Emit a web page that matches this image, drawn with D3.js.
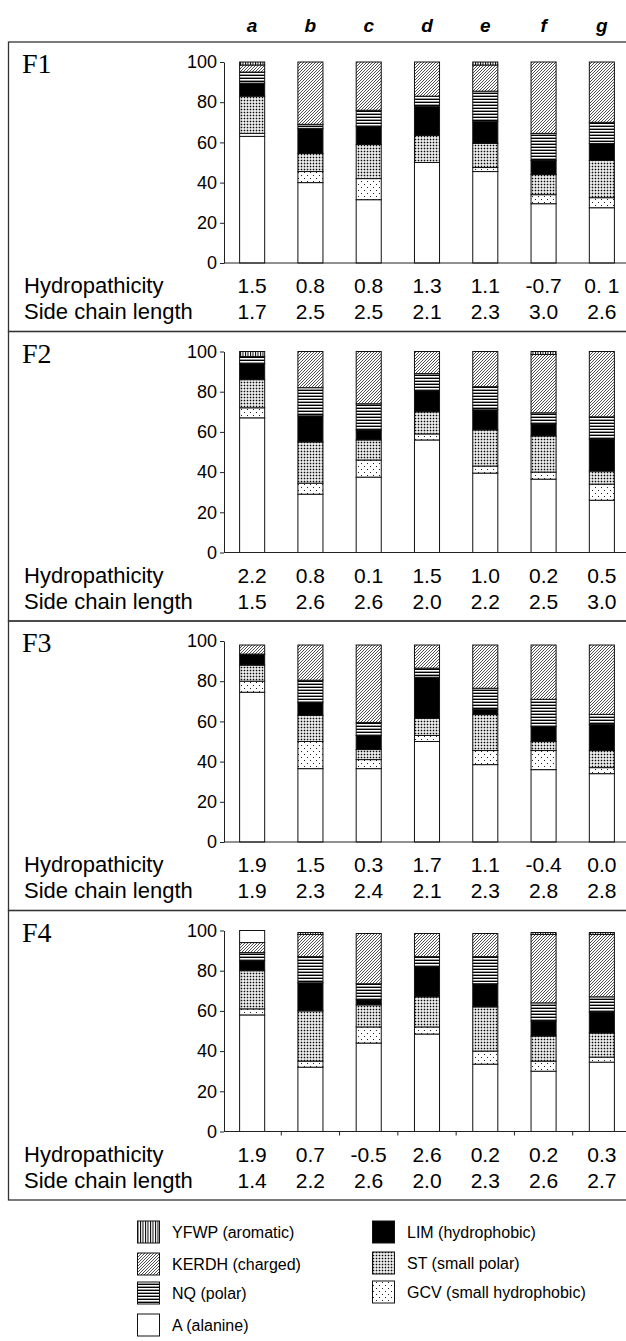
<!DOCTYPE html>
<html lang="en">
<head>
<meta charset="UTF-8">
<title>Amino acid composition F1-F4</title>
<script src="https://d3js.org/d3.v7.min.js"></script>
<style>
  body { margin: 0; background: #fff; }
  text { font-family: Arial, "Liberation Sans", sans-serif; fill: #000; }
</style>
</head>
<body>
<div id="chart"></div>

<script>
// Categories and panels
const categories = ["a", "b", "c", "d", "e", "f", "g"];
const panels = ["F1", "F2", "F3", "F4"];

// Stack order from bottom to top; "other" is the unlabelled white cap on F4 bar a
const series = ["A", "GCV", "ST", "LIM", "NQ", "KERDH", "YFWP", "other"];

// Percent composition, one row per series (same order as `series`), one column per category
const f1Values = [
  [63, 40, 31.5, 50, 45.5, 29.5, 27.5],
  [1.5, 5.5, 10.5, 0, 2, 4.5, 5],
  [18.5, 9, 17, 13.5, 12, 10, 18.5],
  [6.5, 12.5, 9, 14.5, 11, 7, 8.5],
  [5.5, 2, 8, 5, 15, 13.5, 10.5],
  [3.5, 31, 24, 17, 13, 35.5, 30],
  [1.5, 0, 0, 0, 1.5, 0, 0],
  [0, 0, 0, 0, 0, 0, 0]
];
const f2Values = [
  [67, 29, 37.5, 56, 39.5, 36.5, 26],
  [5, 5.5, 8.5, 3, 3.5, 3.5, 8],
  [14, 20.5, 10, 11, 18, 18, 6.5],
  [8, 13, 5, 10.5, 10, 6, 16],
  [3.5, 14, 13, 8.5, 11.5, 5.5, 11],
  [0, 18, 26, 11, 17.5, 29, 32.5],
  [2.5, 0, 0, 0, 0, 1.5, 0],
  [0, 0, 0, 0, 0, 0, 0]
];
const f3Values = [
  [74.5, 36.5, 36.5, 50, 38.5, 36, 34],
  [5.5, 13.5, 4.5, 3, 7, 9.5, 3],
  [8, 13, 5, 8.5, 18, 4.5, 8.5],
  [5.5, 6.5, 7, 20.5, 2.5, 7.5, 13],
  [0, 11, 6.5, 4.5, 10.5, 13.5, 5],
  [4.5, 17.5, 38.5, 11.5, 21.5, 27, 34.5],
  [0, 0, 0, 0, 0, 0, 0],
  [0, 0, 0, 0, 0, 0, 0]
];
const f4Values = [
  [58, 32, 44, 48.5, 33.5, 30, 34.5],
  [3, 3, 8, 3.5, 6.5, 5, 2.5],
  [19, 25, 11, 15, 22, 12.5, 12],
  [5, 14, 2.5, 15, 11.5, 7.5, 10.5],
  [4, 13, 8, 5, 13.5, 9, 7.5],
  [5, 11, 25, 11.5, 11.5, 34, 31],
  [0, 1, 0, 0, 0, 1, 1],
  [6, 0, 0, 0, 0, 0, 0]
];

// Row values under each panel
const hydro = [
  ["1.5", "0.8", "0.8", "1.3", "1.1", "-0.7", "0. 1"],
  ["2.2", "0.8", "0.1", "1.5", "1.0", "0.2", "0.5"],
  ["1.9", "1.5", "0.3", "1.7", "1.1", "-0.4", "0.0"],
  ["1.9", "0.7", "-0.5", "2.6", "0.2", "0.2", "0.3"]
];
const sideChain = [
  ["1.7", "2.5", "2.5", "2.1", "2.3", "3.0", "2.6"],
  ["1.5", "2.6", "2.6", "2.0", "2.2", "2.5", "3.0"],
  ["1.9", "2.3", "2.4", "2.1", "2.3", "2.8", "2.8"],
  ["1.4", "2.2", "2.6", "2.0", "2.3", "2.6", "2.7"]
];
const yTicks = [0, 20, 40, 60, 80, 100];

// Legend entries (two columns)
const legendLeft = [
  ["YFWP", "YFWP (aromatic)"],
  ["KERDH", "KERDH (charged)"],
  ["NQ", "NQ (polar)"],
  ["A", "A (alanine)"]
];
const legendRight = [
  ["LIM", "LIM (hydrophobic)"],
  ["ST", "ST (small polar)"],
  ["GCV", "GCV (small hydrophobic)"]
];

const panelValues = [f1Values, f2Values, f3Values, f4Values];

// Layout
const W = 626, H = 1341;
const panelTop = 42, panelH = 289.5, boxLeft = 8.5;
const axisX = 224;

const svg = d3.select("#chart").append("svg")
  .attr("width", W)
  .attr("height", H);

// Fill patterns
const defs = svg.append("defs");
function pattern(id, w, h) {
  const p = defs.append("pattern")
    .attr("id", id)
    .attr("patternUnits", "userSpaceOnUse")
    .attr("width", w).attr("height", h);
  p.append("rect").attr("width", w).attr("height", h).attr("fill", "#fff");
  return p;
}
// vertical lines
pattern("p-yfwp", 2.5, 4).append("rect").attr("width", 1).attr("height", 4).attr("fill", "#000");
// fine diagonal hatch
pattern("p-kerdh", 3, 3).append("path")
  .attr("d", "M0,3 L3,0 M-1,1 L1,-1 M2,4 L4,2")
  .attr("stroke", "#222").attr("stroke-width", 0.8);
// horizontal lines, alternating black and grey
const nq = pattern("p-nq", 4, 3);
nq.append("rect").attr("y", 0).attr("width", 4).attr("height", 1).attr("fill", "#000");
nq.append("rect").attr("y", 2).attr("width", 4).attr("height", 1).attr("fill", "#999");
// dense dots
pattern("p-st", 3, 3).append("rect")
  .attr("x", 0.7).attr("y", 0.7).attr("width", 1.6).attr("height", 1.6).attr("fill", "#000");
// sparse dots
const gcv = pattern("p-gcv", 6, 6);
gcv.append("rect").attr("x", 1).attr("y", 1).attr("width", 1).attr("height", 1).attr("fill", "#222");
gcv.append("rect").attr("x", 4).attr("y", 4).attr("width", 1).attr("height", 1).attr("fill", "#222");

const fills = {
  A: "#fff", GCV: "url(#p-gcv)", ST: "url(#p-st)", LIM: "#000",
  NQ: "url(#p-nq)", KERDH: "url(#p-kerdh)", YFWP: "url(#p-yfwp)", other: "#fff"
};

// x scale shared by every panel
const x = d3.scaleBand()
  .domain(categories)
  .range([223, 631])
  .paddingInner(0.57)
  .paddingOuter(0.285);

// Column letters at the top
svg.append("g").selectAll("text")
  .data(categories)
  .join("text")
  .attr("x", d => x(d) + x.bandwidth() / 2)
  .attr("y", 32)
  .attr("text-anchor", "middle")
  .style("font-size", "19px")
  .style("font-weight", "bold")
  .style("font-style", "italic")
  .text(d => d);

panels.forEach((name, i) => {
  const top = panelTop + i * panelH;
  const g = svg.append("g");

  // panel frame (right edge runs off the page)
  g.append("rect")
    .attr("x", boxLeft).attr("y", top)
    .attr("width", W + 10).attr("height", panelH)
    .attr("fill", "none").attr("stroke", "#333").attr("stroke-width", 1.3);

  g.append("text")
    .attr("x", 22).attr("y", top + 31)
    .style("font-family", "'Liberation Serif', 'Times New Roman', serif")
    .style("font-size", "28px")
    .text(name);

  const y = d3.scaleLinear().domain([0, 100]).range([top + 221, top + 20]);

  // stacked bars
  const rows = categories.map((c, j) => {
    const r = { cat: c };
    series.forEach((s, k) => { r[s] = panelValues[i][k][j]; });
    return r;
  });
  const stacked = d3.stack().keys(series)(rows);

  g.append("g").selectAll("g")
    .data(stacked)
    .join("g")
    .attr("fill", d => fills[d.key])
    .selectAll("rect")
    .data(d => d.filter(p => p[1] - p[0] > 0))
    .join("rect")
    .attr("x", d => x(d.data.cat))
    .attr("y", d => y(d[1]))
    .attr("width", x.bandwidth())
    .attr("height", d => y(d[0]) - y(d[1]))
    .attr("stroke", "#111")
    .attr("stroke-width", 1);

  // y axis
  const yAxis = g.append("g")
    .attr("transform", `translate(${axisX},0)`)
    .call(d3.axisLeft(y).tickValues(yTicks).tickSize(4).tickSizeOuter(0).tickPadding(3));
  yAxis.selectAll("text").style("font-size", "18px").style("font-family", "Arial, 'Liberation Sans', sans-serif");
  yAxis.selectAll("path, line").attr("stroke", "#222");

  // x axis line
  const xAxis = g.append("g")
    .attr("transform", `translate(0,${y(0)})`);
  xAxis.append("line")
    .attr("x1", axisX).attr("x2", W)
    .attr("stroke", "#222");
  if (i === 3) {
    xAxis.selectAll("line.tick")
      .data(categories.slice(1))
      .join("line")
      .attr("class", "tick")
      .attr("x1", d => x(d) - x.step() * x.paddingInner() / 2)
      .attr("x2", d => x(d) - x.step() * x.paddingInner() / 2)
      .attr("y1", 0).attr("y2", 4)
      .attr("stroke", "#222");
  }

  // property rows
  const rowDefs = [["Hydropathicity", hydro[i], top + 251], ["Side chain length", sideChain[i], top + 277]];
  rowDefs.forEach(([label, vals, yy]) => {
    g.append("text")
      .attr("x", 24).attr("y", yy)
      .style("font-size", "22px")
      .text(label);
    g.append("g").selectAll("text")
      .data(vals)
      .join("text")
      .attr("x", (d, j) => x(categories[j]) + x.bandwidth() / 2)
      .attr("y", yy)
      .attr("text-anchor", "middle")
      .style("font-size", "21px")
      .text(d => d);
  });
});

// Legend
const legend = svg.append("g");
function legendColumn(items, bx, tx, ys) {
  items.forEach(([key, label], k) => {
    legend.append("rect")
      .attr("x", bx).attr("y", ys[k] - 11)
      .attr("width", 22).attr("height", 22)
      .attr("fill", fills[key])
      .attr("stroke", "#111");
    legend.append("text")
      .attr("x", tx).attr("y", ys[k] + 6)
      .style("font-size", "16px")
      .text(label);
  });
}
legendColumn(legendLeft, 137.5, 172, [1232, 1264, 1293, 1325]);
legendColumn(legendRight, 372.5, 407, [1232, 1263, 1292]);
</script>
</body>
</html>
